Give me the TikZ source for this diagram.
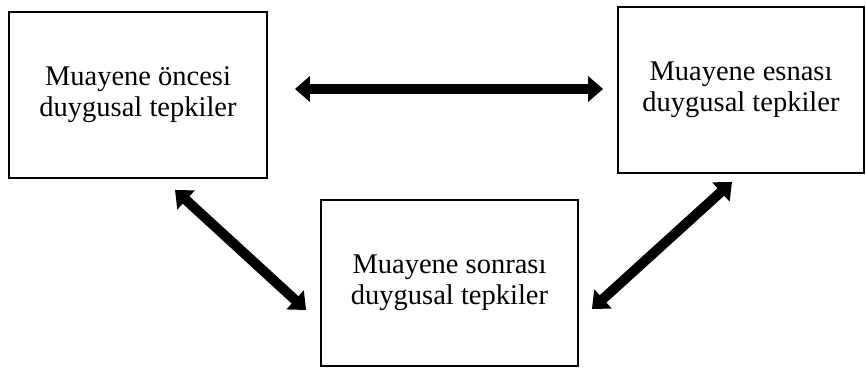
\documentclass[tikz,border=0pt]{standalone}
\usepackage{fontspec}
\setmainfont{Liberation Serif}
\usetikzlibrary{arrows.meta}
\begin{document}
\begin{tikzpicture}[
        x                 = 1pt,
        y                 = -1pt,
        reaction/.style   = {draw, black, line width=1.8pt, minimum width=258pt, minimum height=166pt,
                             inner sep=0pt, align=center, font=\fontsize{28.5}{31}\selectfont},
        link/.style       = {line width=10pt, {Triangle[length=15pt,width=25pt]}-{Triangle[length=15pt,width=25pt]}},
        %sloped
      ]
    \useasboundingbox (0,0) rectangle (866,367);
    \node[reaction] (once) at (138,95) {Muayene öncesi\\duygusal tepkiler};
    \node[reaction, minimum width=246pt] (esna) at (741,90) {Muayene esnası\\duygusal tepkiler};
    \node[reaction, minimum width=257pt] (sonra) at (449.5,283) {Muayene sonrası\\duygusal tepkiler};
    \draw[link] ([shift={(27,-6)}]once.east) -- ([shift={(-14,-1)}]esna.west);
    \draw[link] ([shift={(37,11)}]once.south) -- ([shift={(-14,27)}]sonra.west);
    \draw[link] ([shift={(-9,8)}]esna.south) -- ([shift={(13,26)}]sonra.east);
\end{tikzpicture}
\end{document}
